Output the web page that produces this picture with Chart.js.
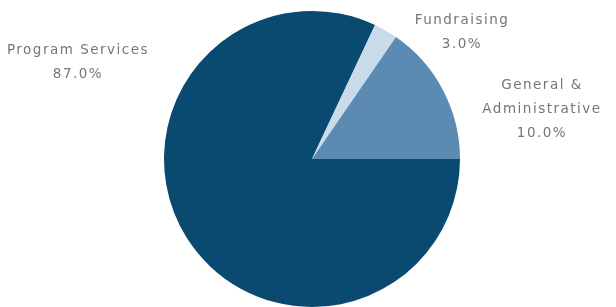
<!DOCTYPE html>
<html>
<head>
<meta charset="utf-8">
<script src="https://cdn.jsdelivr.net/npm/chart.js@4"></script>
<style>
  html, body { margin: 0; padding: 0; background: #ffffff; }
  #wrap { width: 616px; height: 307px; position: relative; }
</style>
</head>
<body>
<div id="wrap"><canvas id="chart" width="616" height="307"></canvas></div>
<script>
// categories and values (slice sizes, labels as printed)
const categories = ['Program Services', 'Fundraising', 'General & Administrative'];
const sliceValues = [82.0, 2.6, 15.4];
const percentLabels = ['87.0%', '3.0%', '10.0%'];
const labelLines = [['Program Services'], ['Fundraising'], ['General &', 'Administrative']];

const sliceColors = ['#0b4a70', '#c9dae9', '#5b8bb2'];

// draws the text labels next to the pie
const sliceLabels = {
    id: 'sliceLabels',
    afterDraw(chart, args, opts) {
        const ctx = chart.ctx;
        ctx.save();
        ctx.font = opts.font;
        ctx.fillStyle = opts.color;
        ctx.textAlign = 'center';
        ctx.textBaseline = 'middle';
        if ('letterSpacing' in ctx) ctx.letterSpacing = opts.spacing;
        opts.anchors.forEach((a, i) => {
            const lines = labelLines[i].concat([percentLabels[i]]);
            lines.forEach((line, j) => {
                ctx.fillText(line, a.x, a.y + j * opts.lineHeight);
            });
        });
        ctx.restore();
    }
};

new Chart(document.getElementById('chart'), {
    type: 'pie',
    data: {
        labels: categories,
        datasets: [{
            data: sliceValues,
            backgroundColor: sliceColors,
            borderWidth: 0
        }]
    },
    options: {
        responsive: false,
        animation: false,
        rotation: 90,
        layout: { padding: { left: 8, right: 0, top: 11, bottom: 0 } },
        plugins: {
            legend: { display: false },
            tooltip: { enabled: false },
            sliceLabels: {
                font: '13.5px "DejaVu Sans"',
                color: '#6f7780',
                spacing: '1.5px',
                lineHeight: 24,
                anchors: [
                    { x: 78, y: 50 },
                    { x: 462, y: 20 },
                    { x: 542, y: 85 }
                ]
            }
        }
    },
    plugins: [sliceLabels]
});
</script>
</body>
</html>
